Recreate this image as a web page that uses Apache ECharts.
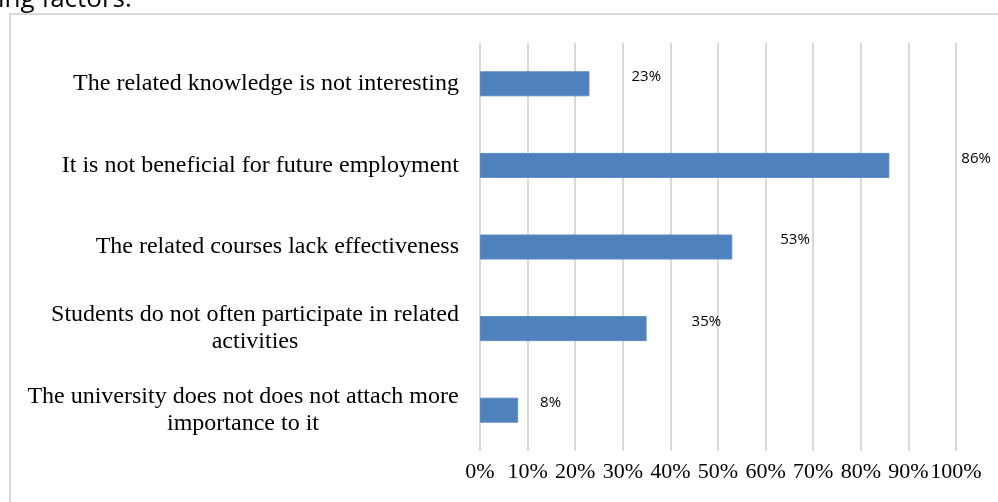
<!DOCTYPE html>
<html>
<head>
<meta charset="utf-8">
<script src="https://cdn.jsdelivr.net/npm/echarts@6/dist/echarts.min.js"></script>
<style>
html,body{margin:0;padding:0;background:#fff;}
#chart{width:998px;height:502px;}
</style>
</head>
<body>
<div id="chart"></div>
<script>
// ---- data ----
const categories = [
  'The related knowledge is not interesting',
  'It is not beneficial for future employment',
  'The related courses lack effectiveness',
  'Students do not often participate in related\nactivities',
  'The university does not does not attach more\nimportance to it'
];
const values = [23, 86, 53, 35, 8];
const tickLabels = ['0%', '10%', '20%', '30%', '40%', '50%', '60%', '70%', '80%', '90%', '100%'];
const captionText = 'ing factors.';

// ---- style ----
const labelShiftX = [42, 72, 48, 45, 22];
const catSize = 24;
const catLine = 27;
const ctx = document.createElement('canvas').getContext('2d');
ctx.font = catSize + 'px "Liberation Serif"';
const rich = {};
categories.forEach((c, i) => {
  if (c.indexOf('\n') >= 0) {
    const w = Math.max(...c.split('\n').map(s => ctx.measureText(s).width));
    rich['w' + i] = { width: Math.ceil(w), align: 'center', fontFamily: 'Liberation Serif', fontSize: catSize, color: '#000', lineHeight: catLine };
  }
});

const chart = echarts.init(document.getElementById('chart'), null, { renderer: 'canvas' });
chart.setOption({
  animation: false,
  grid: { left: 480, right: 42, top: 43, bottom: 51, containLabel: false },
  xAxis: {
    type: 'value', min: 0, max: 100, interval: 10,
    axisLine: { show: false }, axisTick: { show: false },
    splitLine: { show: true, lineStyle: { color: '#d9d9d9', width: 2 } },
    axisLabel: {
      formatter: v => tickLabels[Math.round(v / 10)],
      fontFamily: 'Liberation Serif', fontSize: 22, color: '#000', margin: 10,
      showMinLabel: true, showMaxLabel: true, hideOverlap: false
    }
  },
  yAxis: {
    type: 'category', data: categories, inverse: true,
    axisLine: { show: false }, axisTick: { show: false }, splitLine: { show: false },
    axisLabel: {
      interval: 0, margin: 21, align: 'right',
      fontFamily: 'Liberation Serif', fontSize: catSize, color: '#000', lineHeight: catLine,
      formatter: (v, i) => {
        if (v.indexOf('\n') < 0) return v;
        return v.split('\n').map(s => '{w' + i + '|' + s + '}').join('\n');
      },
      rich: rich
    }
  },
  series: [{
    type: 'bar', data: values.map((v, i) => ({
      value: v,
      label: { offset: [labelShiftX[i], -7] }
    })),
    barWidth: 25,
    itemStyle: { color: '#4f81bd', borderColor: '#5b8ac4', borderWidth: 1 },
    label: {
      show: true, position: 'right', distance: 0,
      formatter: p => p.value + '%',
      fontFamily: 'Open Sans', fontSize: 15, color: '#000'
    }
  }],
  graphic: [
    { type: 'rect', silent: true, z: -1, shape: { x: 10, y: 14, width: 1000, height: 500 },
      style: { fill: 'none', stroke: '#d9d9d9', lineWidth: 2 } },
    { type: 'text', silent: true, x: -2, y: 13,
      style: { text: captionText, font: '26px "Open Sans"', fill: '#000', textVerticalAlign: 'bottom' } }
  ]
});
</script>
</body>
</html>
